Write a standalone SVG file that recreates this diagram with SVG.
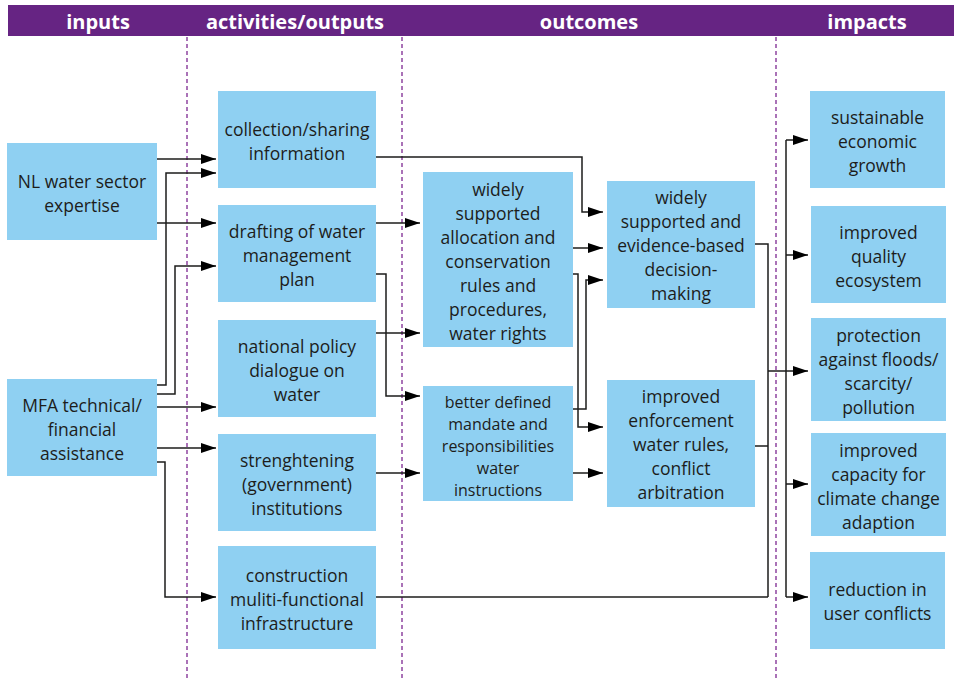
<svg xmlns="http://www.w3.org/2000/svg" width="954" height="678" viewBox="0 0 954 678">
<style>
.hdr{fill:#662483}
.ht{font-family:"Open Sans","Noto Sans",sans-serif;font-weight:bold;font-size:20px;fill:#ffffff;text-anchor:middle}
.div{stroke:#8e44a0;stroke-width:1.5;stroke-dasharray:4,3;fill:none}
.box{fill:#8fd0f2}
.t{font-family:"Open Sans","Noto Sans",sans-serif;font-size:17.5px;fill:#1d1d1b;text-anchor:middle}
.ts{font-size:16px}
.c{stroke:#1d1d1b;stroke-width:1.5;fill:none}
.a{marker-end:url(#arr)}
</style>
<defs>
<marker id="arr" markerUnits="userSpaceOnUse" markerWidth="15" markerHeight="10" refX="15" refY="5" orient="auto" viewBox="0 0 15 10">
<path d="M0,0 L15,5 L0,10 z" fill="#000"/>
</marker>
</defs>
<rect width="954" height="678" fill="#ffffff"/>
<g id="header">
<rect class="hdr" x="8" y="5" width="946" height="31"/>
<text class="ht" x="98" y="29">inputs</text>
<text class="ht" x="295" y="29">activities/outputs</text>
<text class="ht" x="589" y="29">outcomes</text>
<text class="ht" x="867" y="29">impacts</text>
</g>
<g id="dividers">
<line class="div" x1="187" y1="37" x2="187" y2="678"/>
<line class="div" x1="402" y1="37" x2="402" y2="678"/>
<line class="div" x1="776" y1="37" x2="776" y2="678"/>
</g>
<g id="connectors">
<path class="c a" d="M157,159 H216"/>
<path class="c a" d="M157,385 H166 V173 H216"/>
<path class="c a" d="M157,223 H216"/>
<path class="c a" d="M157,394 H175 V266 H216"/>
<path class="c a" d="M157,407 H216"/>
<path class="c a" d="M157,448 H216"/>
<path class="c a" d="M157,462 H165 V597 H216"/>
<path class="c a" d="M376,157 H582 V212 H603"/>
<path class="c a" d="M376,223 H420"/>
<path class="c a" d="M376,274 H386 V396 H420"/>
<path class="c a" d="M376,333 H420"/>
<path class="c a" d="M376,473 H420"/>
<path class="c a" d="M573,248 H603"/>
<path class="c a" d="M573,274 H578 V427 H603"/>
<path class="c a" d="M573,409 H586 V280 H603"/>
<path class="c a" d="M573,473 H603"/>
<path class="c" d="M755,244 H768 V597"/>
<path class="c" d="M755,446 H768"/>
<path class="c" d="M376,597 H768"/>
<path class="c a" d="M768,371 H808"/>
<path class="c" d="M786,140 V597"/>
<path class="c a" d="M786,140 H808"/>
<path class="c a" d="M786,255 H808"/>
<path class="c a" d="M786,484 H808"/>
<path class="c a" d="M786,597 H808"/>
</g>
<g id="nl-water">
<rect class="box" x="7" y="143" width="150" height="97"/>
<text class="t" x="82" y="187.5">NL water sector</text>
<text class="t" x="82" y="211.5">expertise</text>
</g>
<g id="mfa">
<rect class="box" x="7" y="379" width="150" height="97"/>
<text class="t" x="82" y="411.5">MFA technical/</text>
<text class="t" x="82" y="435.5">financial</text>
<text class="t" x="82" y="459.5">assistance</text>
</g>
<g id="collection">
<rect class="box" x="218" y="91" width="158" height="97"/>
<text class="t" x="297" y="135.5">collection/sharing</text>
<text class="t" x="297" y="159.5">information</text>
</g>
<g id="drafting">
<rect class="box" x="218" y="205" width="158" height="97"/>
<text class="t" x="297" y="237.5">drafting of water</text>
<text class="t" x="297" y="261.5">management</text>
<text class="t" x="297" y="285.5">plan</text>
</g>
<g id="national-policy">
<rect class="box" x="218" y="320" width="158" height="97"/>
<text class="t" x="297" y="352.5">national policy</text>
<text class="t" x="297" y="376.5">dialogue on</text>
<text class="t" x="297" y="400.5">water</text>
</g>
<g id="strengthening">
<rect class="box" x="218" y="434" width="158" height="97"/>
<text class="t" x="297" y="466.5">strenghtening</text>
<text class="t" x="297" y="490.5">(government)</text>
<text class="t" x="297" y="514.5">institutions</text>
</g>
<g id="construction">
<rect class="box" x="218" y="546" width="158" height="103"/>
<text class="t" x="297" y="581.5">construction</text>
<text class="t" x="297" y="605.5">muliti-functional</text>
<text class="t" x="297" y="629.5">infrastructure</text>
</g>
<g id="allocation">
<rect class="box" x="423" y="172" width="150" height="175"/>
<text class="t" x="498" y="195.5">widely</text>
<text class="t" x="498" y="219.5">supported</text>
<text class="t" x="498" y="243.5">allocation and</text>
<text class="t" x="498" y="267.5">conservation</text>
<text class="t" x="498" y="291.5">rules and</text>
<text class="t" x="498" y="315.5">procedures,</text>
<text class="t" x="498" y="339.5">water rights</text>
</g>
<g id="better-defined">
<rect class="box" x="423" y="386" width="150" height="115"/>
<text class="t ts" x="498" y="407.5">better defined</text>
<text class="t ts" x="498" y="429.5">mandate and</text>
<text class="t ts" x="498" y="451.5">responsibilities</text>
<text class="t ts" x="498" y="473.5">water</text>
<text class="t ts" x="498" y="495.5">instructions</text>
</g>
<g id="decision-making">
<rect class="box" x="607" y="181" width="148" height="127"/>
<text class="t" x="681" y="204">widely</text>
<text class="t" x="681" y="228">supported and</text>
<text class="t" x="681" y="252">evidence-based</text>
<text class="t" x="681" y="276">decision-</text>
<text class="t" x="681" y="300">making</text>
</g>
<g id="enforcement">
<rect class="box" x="607" y="380" width="148" height="127"/>
<text class="t" x="681" y="403">improved</text>
<text class="t" x="681" y="427">enforcement</text>
<text class="t" x="681" y="451">water rules,</text>
<text class="t" x="681" y="475">conflict</text>
<text class="t" x="681" y="499">arbitration</text>
</g>
<g id="sustainable">
<rect class="box" x="810" y="91" width="135" height="97"/>
<text class="t" x="877.5" y="123.5">sustainable</text>
<text class="t" x="877.5" y="147.5">economic</text>
<text class="t" x="877.5" y="171.5">growth</text>
</g>
<g id="quality">
<rect class="box" x="811" y="206" width="135" height="97"/>
<text class="t" x="878.5" y="238.5">improved</text>
<text class="t" x="878.5" y="262.5">quality</text>
<text class="t" x="878.5" y="286.5">ecosystem</text>
</g>
<g id="protection">
<rect class="box" x="811" y="318" width="135" height="103"/>
<text class="t" x="878.5" y="341.5">protection</text>
<text class="t" x="878.5" y="365.5">against floods/</text>
<text class="t" x="878.5" y="389.5">scarcity/</text>
<text class="t" x="878.5" y="413.5">pollution</text>
</g>
<g id="climate">
<rect class="box" x="811" y="433" width="135" height="103"/>
<text class="t" x="878.5" y="456.5">improved</text>
<text class="t" x="878.5" y="480.5">capacity for</text>
<text class="t" x="878.5" y="504.5">climate change</text>
<text class="t" x="878.5" y="528.5">adaption</text>
</g>
<g id="reduction">
<rect class="box" x="810" y="552" width="135" height="97"/>
<text class="t" x="877.5" y="596">reduction in</text>
<text class="t" x="877.5" y="620">user conflicts</text>
</g>
</svg>
